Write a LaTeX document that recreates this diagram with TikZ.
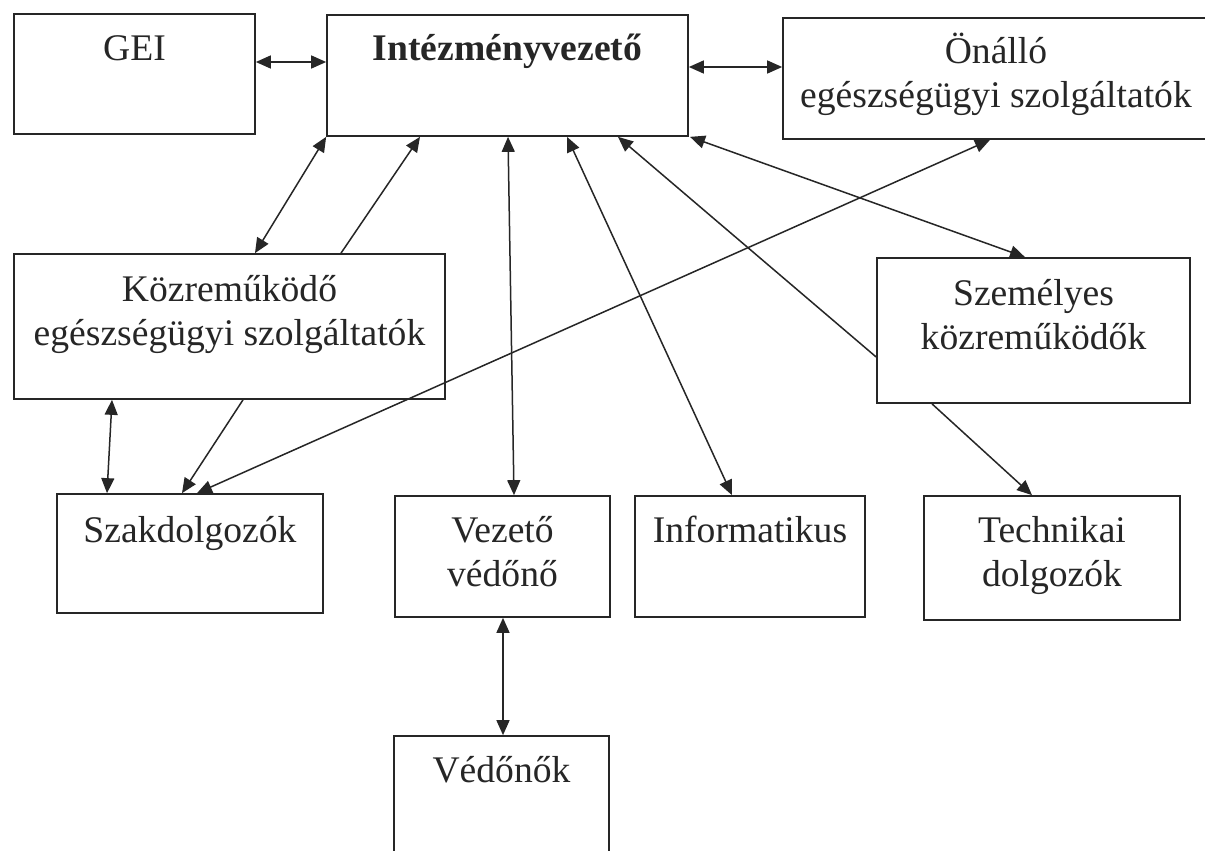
\documentclass[tikz,border=0pt]{standalone}
\usepackage{fontspec}
\setmainfont{Liberation Serif}
\usetikzlibrary{arrows.meta,fit}
\begin{document}
\begin{tikzpicture}[x=0.5pt,y=-0.5pt,
  box/.style={draw=black!85, line width=0.85pt, inner sep=0pt},
  txt/.style={font=\fontsize{18.8}{22}\selectfont, inner sep=0pt, anchor=base, text=black!85},
  dbl/.style={{Triangle[length=7.5pt,width=6.5pt]}-{Triangle[length=7.5pt,width=6.5pt]}, line width=0.75pt, draw=black!85},
  one/.style={-{Triangle[length=7.5pt,width=6.5pt]}, line width=0.75pt, draw=black!85}]
\useasboundingbox (0,0) rectangle (1205,851);
\fill[white] (0,0) rectangle (1205,851);
\clip (0,0) rectangle (1205,851);
% boxes
\node[box, fit={(14,14) (255,134)}] (gei) {};
\node[box, fit={(327,15) (688,136)}] (iv) {};
\node[box, fit={(783,18) (1210,139)}] (onallo) {};
\node[box, fit={(14,254) (445,399)}] (kozre) {};
\node[box, fit={(877,258) (1190,403)}] (szem) {};
\node[box, fit={(57,494) (323,613)}] (szak) {};
\node[box, fit={(395,496) (610,617)}] (vv) {};
\node[box, fit={(635,496) (865,617)}] (inf) {};
\node[box, fit={(924,496) (1180,620)}] (tech) {};
\node[box, fit={(394,736) (609,880)}] (ved) {};
% texts
\node[txt] (t1) at (134.5,60) {GEI};
\node[txt] (t2) at (507.5,60) {\textbf{Intézményvezető}};
\node[txt] (t3) at (996,63) {Önálló};
\node[txt] (t4) at (996,107) {egészségügyi szolgáltatók};
\node[txt] (t5) at (229.5,301) {Közreműködő};
\node[txt] (t6) at (229.5,345) {egészségügyi szolgáltatók};
\node[txt] (t7) at (1033.5,305) {Személyes};
\node[txt] (t8) at (1033.5,349) {közreműködők};
\node[txt] (t9) at (190,542) {Szakdolgozók};
\node[txt] (t10) at (502.5,542) {Vezető};
\node[txt] (t11) at (502.5,586) {védőnő};
\node[txt] (t12) at (750,542) {Informatikus};
\node[txt] (t13) at (1052,542) {Technikai};
\node[txt] (t14) at (1052,586) {dolgozók};
\node[txt] (t15) at (501.5,782) {Védőnők};
% connectors
\draw[dbl] (gei.east |- 0,62) -- (iv.west |- 0,62);
\draw[dbl] (iv.east |- 0,67) -- (onallo.west |- 0,67);
\draw[dbl] (iv.south west) -- (kozre.north -| 255,0);
\draw[one] (kozre.north -| 341,0) -- (iv.south -| 420,0);
\draw[dbl] (iv.south -| 508,0) -- (vv.north -| 514,0);
\draw[dbl] (iv.south -| 567,0) -- (inf.north -| 732,0);
\draw[one] (szem.west |- 0,357) -- (iv.south -| 618,0);
\draw[dbl] (iv.south -| 690,0) -- (szem.north -| 1025,0);
\draw[dbl] (onallo.south -| 990,0) -- (szak.north -| 197,0);
\draw[one] (kozre.south -| 243,0) -- (szak.north -| 182,0);
\draw[dbl] (kozre.south -| 112,0) -- (szak.north -| 107,0);
\draw[one] (szem.south -| 932,0) -- (tech.north -| 1032,0);
\draw[dbl] (vv.south -| 503,0) -- (ved.north -| 503,0);
\end{tikzpicture}
\end{document}
